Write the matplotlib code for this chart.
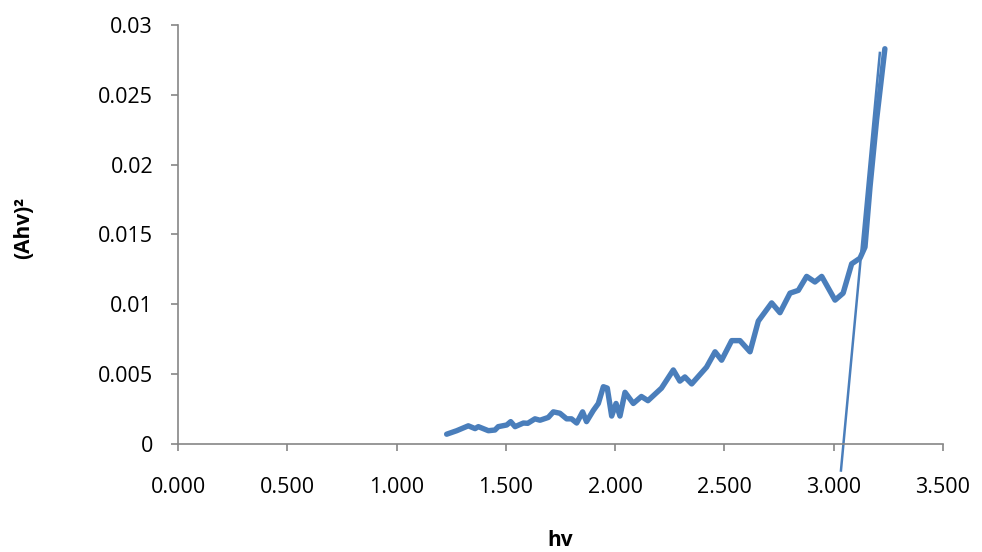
import matplotlib.pyplot as plt
from matplotlib.ticker import FuncFormatter

# (Ahv)^2 versus photon energy hv
hv = [1.229, 1.275, 1.328, 1.359, 1.374, 1.420, 1.450, 1.465, 1.504, 1.522,
      1.542, 1.580, 1.600, 1.633, 1.656, 1.694, 1.717, 1.747, 1.778, 1.800,
      1.824, 1.851, 1.869, 1.900, 1.923, 1.946, 1.964, 1.984, 2.004, 2.022,
      2.045, 2.083, 2.120, 2.150, 2.212, 2.266, 2.296, 2.319, 2.350, 2.418,
      2.457, 2.487, 2.533, 2.571, 2.617, 2.655, 2.716, 2.754, 2.800, 2.838,
      2.876, 2.914, 2.945, 3.006, 3.043, 3.082, 3.120, 3.143, 3.166, 3.196,
      3.234]
ahv2 = [0.0007, 0.00095, 0.0013, 0.0011, 0.00124, 0.00095, 0.0010, 0.00124, 0.00136, 0.0016,
        0.00124, 0.0015, 0.00148, 0.0018, 0.0017, 0.0019, 0.0023, 0.0022, 0.0018, 0.0018,
        0.0015, 0.0023, 0.0016, 0.0024, 0.0029, 0.0041, 0.0040, 0.0020, 0.0029, 0.0020,
        0.0037, 0.0029, 0.0034, 0.0031, 0.0040, 0.0053, 0.0045, 0.0048, 0.0043, 0.0055,
        0.0066, 0.0060, 0.0074, 0.0074, 0.0066, 0.0088, 0.0101, 0.0094, 0.0108, 0.0110,
        0.0120, 0.0116, 0.0120, 0.0103, 0.0108, 0.0129, 0.0133, 0.0141, 0.0184, 0.0232,
        0.0283]

# linear fit of the absorption edge
fit_hv = [3.033, 3.211]
fit_y = [-0.0019, 0.0280]

x_ticks = [0.0, 0.5, 1.0, 1.5, 2.0, 2.5, 3.0, 3.5]
y_ticks = [0.0, 0.005, 0.01, 0.015, 0.02, 0.025, 0.03]

plt.rcParams["font.family"] = ["Open Sans", "DejaVu Sans"]
blue = "#4a7ebb"
grey = "#868686"

fig = plt.figure(figsize=(9.82, 5.52), dpi=100)
ax = fig.add_axes([0.1813, 0.1957, 0.779, 0.759])

ax.plot(hv, ahv2, color=blue, linewidth=3.9, solid_capstyle="round", solid_joinstyle="round")
ax.plot(fit_hv, fit_y, color=blue, linewidth=1.8, clip_on=False)

ax.set_xlim(0, 3.5)
ax.set_ylim(0, 0.03)
ax.set_xticks(x_ticks)
ax.set_yticks(y_ticks)
ax.xaxis.set_major_formatter(FuncFormatter(lambda v, p: f"{v:.3f}"))
ax.yaxis.set_major_formatter(FuncFormatter(lambda v, p: f"{v:g}"))

for side in ["top", "right"]:
    ax.spines[side].set_visible(False)
for side in ["left", "bottom"]:
    ax.spines[side].set_color(grey)
    ax.spines[side].set_linewidth(1.2)
ax.tick_params(colors=grey, labelcolor="black", labelsize=15.5, length=5, width=1.2, direction="out")
ax.tick_params(axis="x", pad=19)
ax.tick_params(axis="y", pad=13)

ax.set_xlabel("hv", fontsize=15, fontweight="bold")
ax.set_ylabel("(Ahv)²", fontsize=15, fontweight="bold")
ax.xaxis.set_label_coords(0.5, -0.205)
ax.yaxis.set_label_coords(-0.188, 0.515)

fig.savefig("out.png", dpi=100)
